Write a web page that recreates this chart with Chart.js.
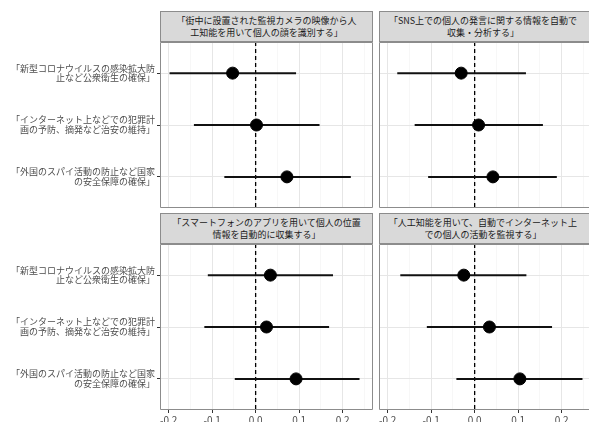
<!DOCTYPE html>
<html>
<head>
<meta charset="utf-8">
<script src="https://cdn.jsdelivr.net/npm/chart.js@4.4.1/dist/chart.umd.min.js"></script>
<style>
html,body{margin:0;padding:0;overflow:hidden}
body{width:589px;height:422px;background:#fff;position:relative;font-family:"Noto Sans CJK JP",sans-serif}
.strip{position:absolute;box-sizing:border-box;width:213px;height:31px;background:#d9d9d9;border:1px solid #8c8c8c;color:#1a1a1a;font-size:9px;line-height:12px;text-align:center;display:flex;flex-direction:column;justify-content:center;white-space:nowrap;overflow:hidden}
.strip.cut{width:210px;border-right:none;padding-right:3px}
canvas{position:absolute}
</style>
</head>
<body>
<div class="strip" style="left:160px;top:11px"><span>「街中に設置された監視カメラの映像から人</span><span>工知能を用いて個人の顔を識別する」</span></div>
<div class="strip cut" style="left:379px;top:11px"><span>「SNS上での個人の発言に関する情報を自動で</span><span>収集・分析する」</span></div>
<div class="strip" style="left:160px;top:213px"><span>「スマートフォンのアプリを用いて個人の位置</span><span>情報を自動的に収集する」</span></div>
<div class="strip cut" style="left:379px;top:213px"><span>「人工知能を用いて、自動でインターネット上</span><span>での個人の活動を監視する」</span></div>

<canvas id="c1" width="373" height="166" style="left:0;top:42px"></canvas>
<canvas id="c2" width="210" height="166" style="left:379px;top:42px"></canvas>
<canvas id="c3" width="373" height="178" style="left:0;top:244px"></canvas>
<canvas id="c4" width="210" height="178" style="left:379px;top:244px"></canvas>

<script>
// row labels (top to bottom)
const rowLabels = [
    ['「新型コロナウイルスの感染拡大防', '止など公衆衛生の確保」'],
    ['「インターネット上などでの犯罪計', '画の予防、摘発など治安の維持」'],
    ['「外国のスパイ活動の防止など国家', 'の安全保障の確保」']
];

// estimates and 95% intervals, one array per panel
const camEst = [-0.053, 0.002, 0.072];
const camLo = [-0.198, -0.142, -0.072];
const camHi = [0.093, 0.147, 0.219];

const snsEst = [-0.031, 0.009, 0.042];
const snsLo = [-0.178, -0.138, -0.107];
const snsHi = [0.118, 0.157, 0.189];

const phoneEst = [0.034, 0.025, 0.093];
const phoneLo = [-0.110, -0.118, -0.048];
const phoneHi = [0.178, 0.169, 0.239];

const aiEst = [-0.025, 0.034, 0.104];
const aiLo = [-0.171, -0.110, -0.042];
const aiHi = [0.119, 0.178, 0.248];

const xTicks = [-0.2, -0.15, -0.1, -0.05, 0, 0.05, 0.1, 0.15, 0.2, 0.25];
const yTicks = [1, 2, 3];

// the right column is cut off by the picture edge
const xMin = -0.22;
const xMaxFull = 0.27;
const xMaxCut = 0.263;

const isMajor = (v) => Math.abs(Math.round(v * 10) - v * 10) < 1e-6;

const panelBorder = {
    id: 'panelBorder',
    afterDraw(chart, args, opts) {
        const {ctx, chartArea: a} = chart;
        const l = a.left + 0.5, t = a.top + 0.5, r = a.right - 0.5, b = a.bottom - 0.5;
        ctx.save();
        ctx.strokeStyle = '#8c8c8c';
        ctx.lineWidth = 1;
        ctx.beginPath();
        if (opts.cut) {
            ctx.moveTo(a.right, t); ctx.lineTo(l, t); ctx.lineTo(l, b); ctx.lineTo(a.right, b);
        } else {
            ctx.rect(l, t, r - l, b - t);
        }
        ctx.stroke();
        ctx.restore();
    }
};

const makePanel = (id, est, lo, hi, showY, showX) => {
    const cut = !showY;
    const datasets = [];
    datasets.push({
        data: [{x: 0, y: 0.4}, {x: 0, y: 3.6}],
        showLine: true,
        borderColor: '#000',
        borderWidth: 1.3,
        borderDash: [4, 3],
        pointRadius: 0,
        order: 3
    });
    for (let i = 0; i < est.length; i++) {
        datasets.push({
            data: [{x: lo[i], y: yTicks[i]}, {x: hi[i], y: yTicks[i]}],
            showLine: true,
            borderColor: '#111',
            borderWidth: 2,
            pointRadius: 0,
            order: 2
        });
    }
    datasets.push({
        data: est.map((v, i) => ({x: v, y: yTicks[i]})),
        backgroundColor: '#000',
        borderColor: '#000',
        pointRadius: 6,
        order: 1
    });

    new Chart(document.getElementById(id), {
        type: 'scatter',
        data: {datasets: datasets},
        options: {
            responsive: false,
            animation: false,
            layout: {padding: 0, autoPadding: false},
            plugins: {legend: {display: false}, tooltip: {enabled: false}, panelBorder: {cut: cut}},
            scales: {
                x: {
                    type: 'linear',
                    min: xMin,
                    max: cut ? xMaxCut : xMaxFull,
                    afterBuildTicks: s => { s.ticks = xTicks.filter(v => v < s.max).map(v => ({value: v})); },
                    afterFit: s => { s.height = showX ? 12 : 0; s.paddingLeft = 0; s.paddingRight = 0; },
                    border: {display: false},
                    grid: {
                        color: c => isMajor(c.tick.value) ? '#e6e6e6' : '#f3f3f3',
                        lineWidth: c => isMajor(c.tick.value) ? 1 : 0.7,
                        drawTicks: showX,
                        tickLength: 3,
                        tickColor: c => isMajor(c.tick.value) ? '#333' : 'rgba(0,0,0,0)'
                    },
                    ticks: {
                        display: showX,
                        autoSkip: false,
                        maxRotation: 0,
                        padding: 1,
                        color: '#4d4d4d',
                        font: {size: 10, family: '"Noto Sans CJK JP", sans-serif'},
                        callback: v => isMajor(v) ? v.toFixed(1) : ''
                    }
                },
                y: {
                    type: 'linear',
                    reverse: true,
                    min: 0.4,
                    max: 3.6,
                    afterBuildTicks: s => { s.ticks = yTicks.map(v => ({value: v})); },
                    afterFit: s => { s.width = showY ? 160 : 0; s.paddingTop = 0; s.paddingBottom = 0; },
                    border: {display: false},
                    grid: {
                        color: '#e6e6e6',
                        drawTicks: showY,
                        tickLength: 3,
                        tickColor: '#333'
                    },
                    ticks: {
                        display: showY,
                        autoSkip: false,
                        padding: 2,
                        color: '#4d4d4d',
                        font: {size: 9, lineHeight: 1.1, family: '"Noto Sans CJK JP", sans-serif'},
                        callback: v => rowLabels[v - 1]
                    }
                }
            }
        },
        plugins: [panelBorder]
    });
};

makePanel('c1', camEst, camLo, camHi, true, false);
makePanel('c2', snsEst, snsLo, snsHi, false, false);
makePanel('c3', phoneEst, phoneLo, phoneHi, true, true);
makePanel('c4', aiEst, aiLo, aiHi, false, true);
</script>
</body>
</html>
